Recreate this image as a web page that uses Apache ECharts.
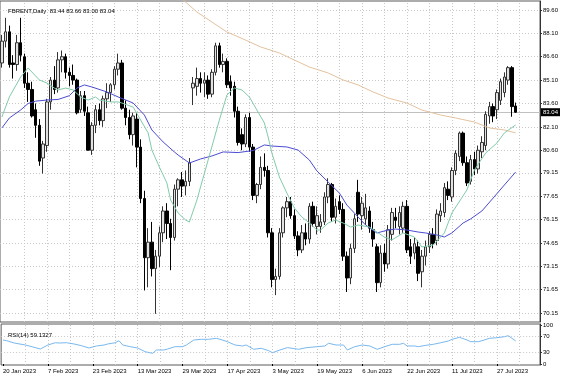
<!DOCTYPE html>
<html><head><meta charset="utf-8">
<script src="https://cdn.jsdelivr.net/npm/echarts@6/dist/echarts.min.js"></script>
<style>html,body{margin:0;padding:0;background:#fff}#c{width:564px;height:376px}</style>
</head><body><div id="c"></div>
<script>
// ---- Daily OHLC (FBRENT) ----
const opens = [86.2,87.6,88.2,86.2,86.1,87.5,86.6,84.9,84.5,83.2,
82.2,80.1,80.9,83.7,85.1,84.6,86.4,86.6,85.6,85.4,
85.1,83.2,84.1,83.0,80.6,82.2,83.2,82.5,83.9,84.3,
84.8,85.8,86.2,83.3,82.7,81.6,82.6,80.8,77.5,73.7,
74.7,73.0,73.8,75.3,76.7,75.9,75.0,78.1,78.7,78.3,
78.6,84.6,84.7,85.2,84.9,85.1,84.2,85.6,87.3,86.1,
86.3,85.0,84.7,83.1,81.6,81.0,82.7,80.8,77.7,78.4,
79.5,79.3,75.3,72.3,72.5,75.3,76.9,77.3,76.4,75.1,
74.2,75.3,74.9,77.0,75.7,75.7,76.0,77.6,78.4,76.3,
77.3,76.8,73.8,72.4,74.3,77.9,76.4,76.2,76.7,75.5,
74.4,72.1,74.0,73.3,75.2,76.3,75.7,75.6,77.0,74.4,
74.0,74.4,72.8,73.8,74.4,75.2,74.8,76.4,76.6,78.1,
77.6,79.3,80.2,81.7,79.8,78.6,80.0,79.4,80.5,80.9,
82.8,83.4,83.2,83.8,84.3,85.1,85.9,83.44];
const highs = [88.0,89.1,88.6,86.7,88.0,89.1,86.8,85.6,85.0,83.6,
82.6,81.2,83.9,85.3,86.0,86.9,87.0,86.8,85.9,86.1,
85.2,84.4,84.4,83.4,82.4,83.5,83.6,84.1,84.9,84.9,
86.0,86.8,86.4,83.8,83.2,83.0,83.0,81.3,78.0,75.6,
76.0,74.2,75.7,77.0,77.2,76.2,78.4,78.8,79.2,79.3,
80.1,85.3,85.9,85.6,85.6,85.4,85.8,87.5,87.5,86.8,
86.5,85.4,85.0,83.4,82.0,82.9,83.0,81.0,78.5,80.2,
80.4,79.6,75.6,73.0,75.6,77.0,77.6,77.6,76.8,75.4,
75.8,75.9,77.2,77.3,77.0,76.5,77.9,78.8,78.5,77.5,
77.7,77.2,74.1,74.6,76.5,78.7,77.6,77.8,77.0,76.0,
74.6,74.5,74.6,75.8,76.9,76.9,77.0,77.3,77.4,74.9,
75.0,74.8,74.2,74.8,75.4,75.6,76.8,77.2,78.5,78.6,
79.5,80.6,81.8,81.8,80.2,80.3,80.5,80.9,81.5,83.1,
83.7,83.6,84.5,85.2,85.6,86.0,86.0,83.66];
const lows = [85.9,87.2,85.9,85.2,85.7,86.3,84.6,83.7,82.7,81.4,
79.6,79.1,80.5,83.2,84.2,84.3,85.6,85.2,84.7,84.8,
82.9,83.0,82.8,80.6,80.3,81.7,82.2,82.1,83.3,83.7,
84.5,85.4,83.2,82.2,81.3,80.9,79.5,77.2,71.6,71.8,
72.5,70.1,73.1,74.7,74.9,72.9,74.8,77.0,77.6,77.7,
78.3,83.5,84.1,84.3,84.0,83.9,84.0,85.4,85.9,85.6,
84.6,84.1,82.7,80.9,80.6,80.8,80.5,77.4,77.2,78.1,
78.9,75.0,71.8,71.3,72.3,75.0,76.3,76.2,74.9,73.8,
74.0,74.5,74.6,75.7,75.2,75.3,75.8,77.2,76.0,75.9,
76.5,73.5,71.5,72.0,74.0,76.0,75.5,75.8,75.3,74.4,
71.5,71.8,72.8,73.0,74.8,75.6,75.2,75.3,74.0,73.3,
73.6,72.2,71.8,73.2,74.0,74.3,74.5,76.0,76.3,77.4,
77.3,79.0,79.9,79.6,78.3,78.4,79.0,79.1,80.1,80.6,
82.3,82.4,82.6,83.5,84.0,84.8,82.75,83.00];
const closes = [87.6,88.2,86.1,86.1,87.5,86.7,84.9,84.5,82.8,82.2,
79.9,81.0,83.7,85.1,84.5,86.4,86.6,85.6,85.4,85.1,
83.0,84.1,83.1,80.6,82.2,83.2,82.5,83.9,84.3,84.8,
85.8,86.2,83.3,82.7,81.6,82.8,80.8,77.5,73.7,74.7,
73.0,73.8,75.3,76.7,75.9,75.0,78.1,78.7,78.3,78.6,
79.8,84.9,85.2,84.9,85.1,84.2,85.6,87.3,86.1,86.3,
84.8,84.6,83.1,81.1,81.0,82.7,80.8,77.7,78.4,79.5,
79.3,75.3,72.3,72.5,75.3,76.9,77.3,76.4,75.1,74.2,
75.3,74.9,77.0,75.9,76.4,76.0,77.6,78.4,76.3,77.0,
76.8,73.8,72.4,74.3,76.2,76.5,77.2,76.9,75.6,74.9,
72.1,74.0,73.3,75.5,76.6,76.1,76.6,77.0,74.2,73.8,
74.6,72.7,73.8,74.4,75.2,74.6,76.5,76.7,78.2,77.7,
79.3,80.4,81.7,79.8,78.5,80.0,79.4,80.6,81.1,82.9,
83.4,82.8,84.3,85.0,85.3,85.9,83.4,83.04];

// ---- Moving averages: [bar index, value] ----
const maFast = [[0,82.73],[2,84.02],[5,85.30],[7,85.88],[8,85.62],[10,85.11],[12,84.91],[14,84.59],[15,84.47],[17,84.59],[19,84.47],[21,84.02],[23,83.82],[25,84.02],[26,83.82],[29,83.70],[31,83.70],[32,83.63],[35,83.37],[37,82.54],[39,81.71],[40,80.61],[42,79.52],[44,78.50],[45,77.40],[47,76.57],[49,76.12],[50,75.99],[52,77.40],[55,79.97],[58,82.54],[60,84.14],[62,84.59],[64,84.47],[66,84.02],[68,83.18],[70,82.35],[71,81.45],[72,80.42],[74,78.88],[76,77.85],[78,76.89],[80,76.31],[82,75.93],[84,75.48],[85,75.48],[87,75.93],[89,76.12],[91,75.93],[93,75.67],[95,75.80],[98,75.67],[102,75.03],[104,74.84],[107,75.29],[110,75.03],[112,74.39],[115,74.52],[118,75.29],[120,76.57],[124,78.05],[126,79.33],[129,80.42],[132,81.06],[134,81.71],[137,82.22]];
const maMid = [[0,82.03],[2,82.67],[5,83.18],[7,83.60],[9,83.75],[12,83.82],[15,83.86],[18,84.10],[20,84.59],[22,84.79],[24,84.66],[28,84.34],[31,84.02],[35,83.63],[38,82.86],[40,81.90],[43,81.13],[46,80.49],[47,80.29],[50,79.78],[53,80.04],[56,80.23],[59,80.49],[63,80.45],[67,80.58],[70,80.94],[72,80.87],[76,80.81],[79,80.61],[82,79.97],[84,79.27],[87,78.56],[90,77.85],[92,77.08],[95,76.31],[97,75.80],[100,75.29],[103,75.48],[105,75.54],[108,75.48],[111,75.35],[113,75.29],[116,75.16],[118,75.03],[120,75.29],[123,75.93],[125,76.19],[128,76.70],[131,77.53],[134,78.37],[137,79.20]];
const maSlow = [[45,90.9],[49,90.11],[52,89.47],[56,88.83],[60,88.19],[65,87.67],[69,87.23],[74,86.84],[78,86.39],[82,85.94],[87,85.56],[91,85.11],[95,84.79],[99,84.34],[103,83.95],[108,83.63],[112,83.18],[117,82.86],[121,82.67],[126,82.41],[130,82.03],[134,81.90],[137,81.71]];
// ---- RSI(14) ----
const rsi = [[0,61.5],[1,59.7],[3,53.8],[6,48.7],[8,43.6],[10,38.5],[12,48.7],[14,54.6],[15,53.8],[17,54.6],[19,51.3],[21,46.9],[23,41],[25,46.2],[27,48.7],[28,51.3],[30,54.6],[31,59.7],[32,48.7],[34,44.4],[36,41],[38,31.5],[40,27.4],[41,35.9],[43,35.9],[44,38.5],[46,44.4],[48,44.4],[49,48.7],[51,61.5],[53,63.3],[55,63.3],[57,65.9],[58,63.3],[60,57.2],[62,48.7],[64,46.2],[65,48.7],[67,37.7],[69,40.3],[71,34.1],[72,29],[74,35.9],[76,42],[79,37.7],[81,41.8],[84,44.4],[86,46.2],[87,53.1],[89,48.7],[91,48.7],[92,35.9],[94,44.4],[96,48.7],[98,46.2],[100,37.7],[102,44.4],[104,50.5],[106,50.5],[107,53.1],[108,46.2],[110,46.2],[111,44.4],[113,47.9],[115,50.5],[117,54.6],[119,59],[120,63.3],[122,68.5],[124,61.5],[125,57.2],[127,57.2],[128,59.7],[130,65.9],[132,67.4],[134,70],[135,72.6],[136,65.9],[137,59.1]];

// ---- Axis ticks ----
const priceTicks = [70.15,71.65,73.15,74.65,76.15,77.65,79.15,80.60,82.10,83.60,85.10,86.60,88.10,89.60];
const rsiTicks = [0,30,70,100];
const rsiLevels = [30,70];
const dateTickIdx = [0,12,24,36,48,60,72,84,96,108,120,132];
const dateTickLabels = ['20 Jan 2023','7 Feb 2023','23 Feb 2023','13 Mar 2023','29 Mar 2023','17 Apr 2023','3 May 2023','19 May 2023','6 Jun 2023','22 Jun 2023','11 Jul 2023','27 Jul 2023'];
const lastPrice = 83.04;
const titleText = 'FBRENT,Daily  83.44 83.66 83.00 83.04';
const rsiTitle = 'RSI(14) 59.1327';

const NCAT = 144;
const cats = [];
for (let i = 0; i < NCAT; i++) { const k = dateTickIdx.indexOf(i); cats.push(k >= 0 ? dateTickLabels[k] : ''); }
const vGrid = [];
for (let i = 6; i < NCAT; i += 6) vGrid.push(i);
const candles = opens.map((o, i) => [o, closes[i], lows[i], highs[i]]);

const FONT = 'Liberation Sans, Arial, sans-serif';
const gridDot = { color: '#c8c8c8', type: [1, 2], width: 1 };

const chart = echarts.init(document.getElementById('c'), null, { renderer: 'canvas' });
chart.setOption({
  animation: false,
  backgroundColor: '#ffffff',
  textStyle: { fontFamily: FONT },
  title: [
    { text: titleText, left: 3, top: 3, textStyle: { fontSize: 6, fontWeight: 'normal', color: '#000', fontFamily: FONT } },
    { text: rsiTitle, left: 3, top: 327, textStyle: { fontSize: 6, fontWeight: 'normal', color: '#000', fontFamily: FONT } }
  ],
  grid: [
    { left: 0, top: 1, width: 540, height: 321, show: true, borderColor: '#5a5a5a', borderWidth: 1, backgroundColor: 'transparent' },
    { left: 0, top: 324, width: 540, height: 41, show: true, borderColor: '#5a5a5a', borderWidth: 1, backgroundColor: 'transparent' }
  ],
  xAxis: [
    { type: 'category', gridIndex: 0, data: cats, boundaryGap: true,
      axisLine: { show: false }, axisTick: { show: false }, axisLabel: { show: false }, splitLine: { show: false } },
    { type: 'category', gridIndex: 1, data: cats, boundaryGap: true,
      axisLine: { show: false },
      axisTick: { show: true, alignWithLabel: true, length: 2, interval: (i) => dateTickIdx.includes(i), lineStyle: { color: '#000' } },
      axisLabel: { show: true, interval: (i) => dateTickIdx.includes(i), align: 'left', margin: 3, fontSize: 6, color: '#000', fontFamily: FONT },
      splitLine: { show: false } }
  ],
  yAxis: [
    { type: 'value', gridIndex: 0, position: 'right', min: 69.575, max: 90.178, scale: true,
      axisLine: { show: true, lineStyle: { color: '#333' } },
      axisTick: { show: true, customValues: priceTicks, length: 2, lineStyle: { color: '#333' } },
      axisLabel: { show: true, customValues: priceTicks, formatter: (v) => v.toFixed(2), margin: 3, fontSize: 6, color: '#000', fontFamily: FONT },
      splitLine: { show: false } },
    { type: 'value', gridIndex: 1, position: 'right', min: -2.56, max: 102.56,
      axisLine: { show: true, lineStyle: { color: '#333' } },
      axisTick: { show: true, customValues: rsiTicks, length: 2, lineStyle: { color: '#333' } },
      axisLabel: { show: true, customValues: rsiTicks, margin: 3, fontSize: 6, color: '#000', fontFamily: FONT },
      splitLine: { show: false } }
  ],
  series: [
    { name: 'grid', type: 'line', xAxisIndex: 0, yAxisIndex: 0, data: [], z: 0, silent: true,
      markLine: { silent: true, symbol: ['none', 'none'], z: 0, label: { show: false }, lineStyle: gridDot, emphasis: { disabled: true },
        data: priceTicks.map(v => ({ yAxis: v })).concat(vGrid.map(i => ({ xAxis: i }))) } },
    { name: 'bid', type: 'line', xAxisIndex: 0, yAxisIndex: 0, data: [], z: 1, silent: true,
      markLine: { silent: true, symbol: ['none', 'none'], z: 1,
        lineStyle: { color: '#c0c0c0', type: 'solid', width: 1 },
        label: { show: true, position: 'end', distance: 1, formatter: lastPrice.toFixed(2), color: '#fff', backgroundColor: '#000', padding: [1, 2, 1, 2], fontSize: 6, fontFamily: FONT },
        data: [{ yAxis: lastPrice }] } },
    { name: 'FBRENT', type: 'candlestick', xAxisIndex: 0, yAxisIndex: 0, data: candles, barWidth: 3, z: 3,
      itemStyle: { color: '#e2e2e2', color0: '#000', borderColor: '#333', borderColor0: '#000', borderWidth: 1 } },
    { name: 'MA200', type: 'line', xAxisIndex: 0, yAxisIndex: 0, data: maSlow, showSymbol: false, z: 4, clip: true,
      lineStyle: { color: '#e3c29f', width: 1 } },
    { name: 'MA50', type: 'line', xAxisIndex: 0, yAxisIndex: 0, data: maMid, showSymbol: false, z: 4, clip: true,
      lineStyle: { color: '#4c4cd2', width: 1 } },
    { name: 'MA20', type: 'line', xAxisIndex: 0, yAxisIndex: 0, data: maFast, showSymbol: false, z: 4, clip: true,
      lineStyle: { color: '#82cbab', width: 1 } },
    { name: 'rsigrid', type: 'line', xAxisIndex: 1, yAxisIndex: 1, data: [], z: 0, silent: true,
      markLine: { silent: true, symbol: ['none', 'none'], z: 0, label: { show: false }, lineStyle: gridDot,
        data: rsiLevels.map(v => ({ yAxis: v })).concat(vGrid.map(i => ({ xAxis: i }))) } },
    { name: 'RSI', type: 'line', xAxisIndex: 1, yAxisIndex: 1, data: rsi, showSymbol: false, z: 3,
      lineStyle: { color: '#7ab8ee', width: 1 } }
  ]
});
</script>
</body></html>
